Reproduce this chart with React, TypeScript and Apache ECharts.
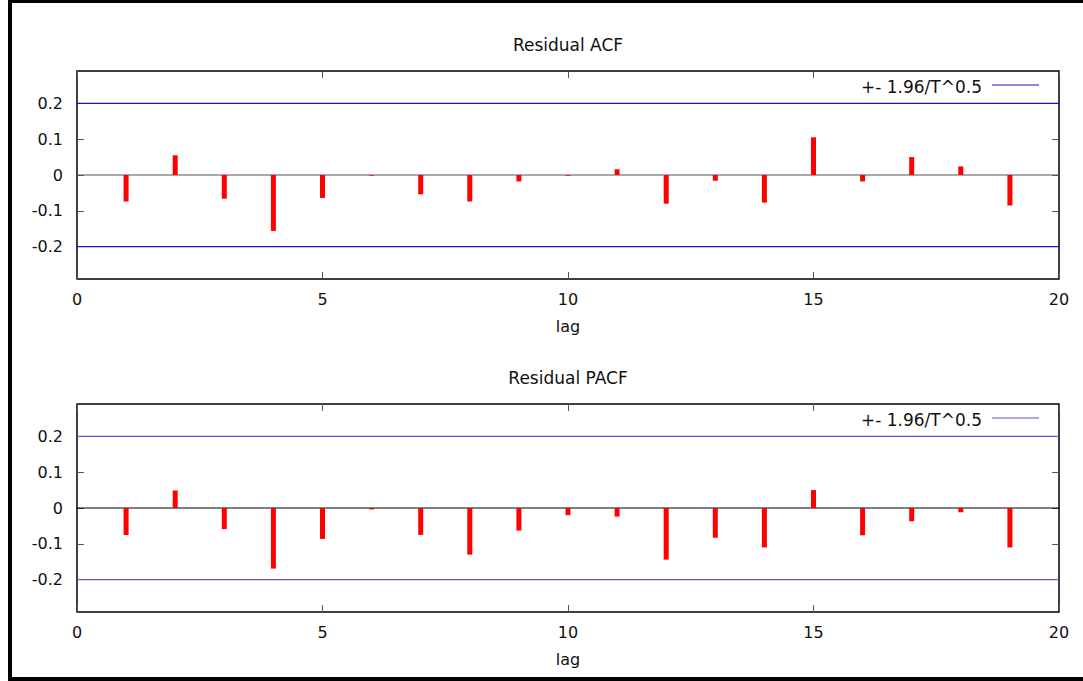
import React, { useEffect, useRef } from "react";
import * as echarts from "echarts";

const lags = [1, 2, 3, 4, 5, 6, 7, 8, 9, 10, 11, 12, 13, 14, 15, 16, 17, 18, 19];
const acfValues = [-0.074, 0.055, -0.066, -0.156, -0.064, -0.002, -0.054, -0.074, -0.018, -0.002, 0.016, -0.08, -0.016, -0.077, 0.105, -0.018, 0.05, 0.024, -0.085];
const pacfValues = [-0.075, 0.049, -0.059, -0.169, -0.086, -0.004, -0.075, -0.13, -0.063, -0.02, -0.024, -0.144, -0.083, -0.11, 0.05, -0.076, -0.037, -0.012, -0.11];
const bandLevels = [0.2, -0.2];
const yTickValues = [-0.2, -0.1, 0, 0.1, 0.2];
const panelTitles = ["Residual ACF", "Residual PACF"];
const legendLabel = "+- 1.96/T^0.5";
const xAxisName = "lag";

const FONT = "DejaVu Sans";
const FS = 16;

export default function App() {
  const ref = useRef<HTMLDivElement>(null);
  useEffect(() => {
    if (!ref.current) return;
    const chart = echarts.init(ref.current, null, { renderer: "svg" });
    const gridTops = [71, 404];
    const gridH = 208;
    const bandColors = ["#1515c8", "#5555e0"];
    const zeroColors = ["#555555", "#000000"];
    const datasets = [acfValues, pacfValues];

    const grids = gridTops.map((t) => ({
      left: 77,
      top: t,
      width: 982,
      height: gridH,
      show: true,
      borderColor: "#000",
      borderWidth: 1.5,
      backgroundColor: "transparent",
    }));

    const tickStyle = { show: true, inside: true, length: 7, lineStyle: { color: "#555" } };
    const xAxes: any[] = [];
    const yAxes: any[] = [];
    [0, 1].forEach((g) => {
      xAxes.push({
        type: "value",
        gridIndex: g,
        position: "bottom",
        min: 0,
        max: 20,
        interval: 5,
        axisLine: { show: false, onZero: false },
        axisTick: tickStyle,
        axisLabel: { show: true, margin: 12, fontFamily: FONT, fontSize: FS, color: "#111" },
        splitLine: { show: false },
        name: xAxisName,
        nameLocation: "middle",
        nameGap: 39,
        nameTextStyle: { fontFamily: FONT, fontSize: FS, color: "#111" },
      });
      xAxes.push({
        type: "value",
        gridIndex: g,
        position: "top",
        min: 0,
        max: 20,
        interval: 5,
        axisLine: { show: false, onZero: false },
        axisTick: tickStyle,
        axisLabel: { show: false },
        splitLine: { show: false },
      });
      yAxes.push({
        type: "value",
        gridIndex: g,
        position: "left",
        min: -0.29,
        max: 0.29,
        axisLine: { show: false, onZero: false },
        axisTick: { ...tickStyle, customValues: yTickValues },
        axisLabel: {
          show: true,
          margin: 14,
          customValues: yTickValues,
          fontFamily: FONT,
          fontSize: FS,
          color: "#111",
          formatter: (v: number) => (Math.abs(v) < 1e-9 ? "0" : v.toFixed(1)),
        },
        splitLine: { show: false },
      });
      yAxes.push({
        type: "value",
        gridIndex: g,
        position: "right",
        min: -0.29,
        max: 0.29,
        axisLine: { show: false, onZero: false },
        axisTick: { ...tickStyle, customValues: yTickValues },
        axisLabel: { show: false },
        splitLine: { show: false },
      });
    });

    const series: any[] = [];
    [0, 1].forEach((g) => {
      series.push({
        type: "line",
        xAxisIndex: g * 2,
        yAxisIndex: g * 2,
        data: [[0, 0], [20, 0]],
        symbol: "none",
        lineStyle: { color: zeroColors[g], width: 1.2 },
        silent: true,
        z: 1,
      });
      bandLevels.forEach((b) => {
        series.push({
          type: "line",
          xAxisIndex: g * 2,
          yAxisIndex: g * 2,
          data: [[0, b], [20, b]],
          symbol: "none",
          lineStyle: { color: bandColors[g], width: 1.2 },
          silent: true,
          z: 2,
        });
      });
      series.push({
        type: "bar",
        xAxisIndex: g * 2,
        yAxisIndex: g * 2,
        data: lags.map((l, i) => [l, datasets[g][i]]),
        barWidth: 5,
        itemStyle: { color: "#ff0000" },
        z: 3,
      });
    });

    const graphic: any[] = [
      { type: "rect", shape: { x: 8, y: 0, width: 1075, height: 3 }, style: { fill: "#000" } },
      { type: "rect", shape: { x: 8, y: 0, width: 4, height: 681 }, style: { fill: "#000" } },
      { type: "rect", shape: { x: 8, y: 677, width: 1075, height: 4 }, style: { fill: "#000" } },
    ];
    const titleY = [45, 378];
    const legY = [87, 420];
    [0, 1].forEach((g) => {
      graphic.push({
        type: "text",
        x: 568,
        y: titleY[g],
        style: { text: panelTitles[g], fontFamily: FONT, fontSize: 17, fill: "#111", align: "center", verticalAlign: "middle" },
      });
      graphic.push({
        type: "text",
        x: 982,
        y: legY[g],
        style: { text: legendLabel, fontFamily: FONT, fontSize: 17, fill: "#111", align: "right", verticalAlign: "middle" },
      });
      graphic.push({
        type: "line",
        shape: { x1: 992, y1: legY[g] - 2, x2: 1039, y2: legY[g] - 2 },
        style: { stroke: bandColors[g], lineWidth: 1.2 },
      });
    });

    chart.setOption({
      animation: false,
      backgroundColor: "#fff",
      grid: grids,
      xAxis: xAxes,
      yAxis: yAxes,
      series,
      graphic,
    });
    return () => chart.dispose();
  }, []);
  return (
    <div
      ref={ref}
      style={{ position: "fixed", left: 0, top: 0, width: 1083, height: 681 }}
    />
  );
}
